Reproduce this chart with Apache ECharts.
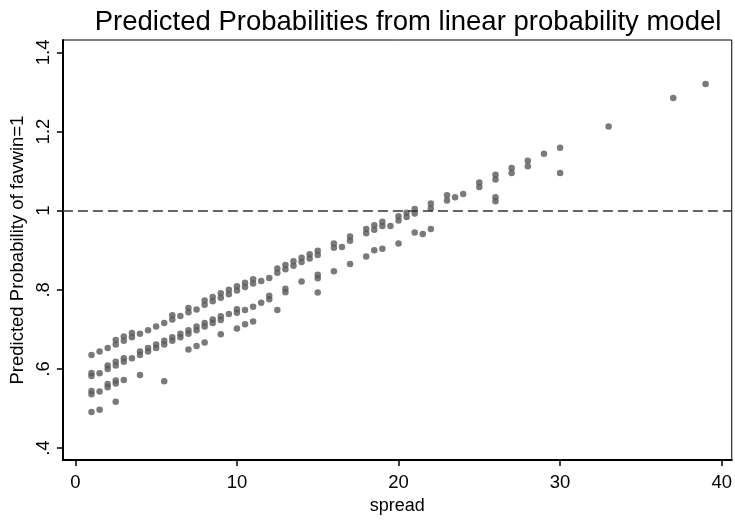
<!DOCTYPE html>
<html>
<head>
<meta charset="utf-8">
<script src="https://cdn.jsdelivr.net/npm/echarts@6.0.0/dist/echarts.min.js"></script>
<style>
html,body{margin:0;padding:0;background:#fff;}
#chart{width:735px;height:520px;}
</style>
</head>
<body>
<div id="chart"></div>
<script>
// Point spread (x) and predicted probability (y)
const spread = [
  1,1,1,1,1,1,
  1.5,1.5,1.5,1.5,
  2,2,2,2,2,
  2.5,2.5,2.5,2.5,2.5,2.5,2.5,
  3,3,3,3,3,
  3.5,3.5,3.5,
  4,4,4,4,
  4.5,4.5,4.5,
  5,5,5,
  5.5,5.5,5.5,5.5,
  6,6,6,6,
  6.5,6.5,6.5,
  7,7,7,7,7,
  7.5,7.5,7.5,7.5,
  8,8,8,8,8,
  8.5,8.5,8.5,8.5,
  9,9,9,9,9,
  9.5,9.5,9.5,
  10,10,10,10,10,
  10.5,10.5,10.5,10.5,
  11,11,11,11,
  11.5,11.5,
  12,12,12,
  12.5,12.5,12.5,
  13,13,13,13,
  13.5,13.5,
  14,14,14,
  14.5,14.5,
  15,15,15,15,15,
  16,16,16,
  16.5,
  17,17,17,
  18,18,18,
  18.5,18.5,18.5,
  19,19,19,
  19.5,
  20,20,20,
  20.5,20.5,
  21,21,21,
  21.5,
  22,22,22,
  23,23,
  23.5,
  24,
  25,25,
  26,26,26,26,
  27,27,
  28,28,
  29,
  30,30,
  33,
  37,
  39
];
const predicted = [
  0.635,0.590,0.582,0.544,0.536,0.491,
  0.644,0.589,0.543,0.497,
  0.653,0.609,0.600,0.562,0.554,
  0.673,0.662,0.618,0.609,0.571,0.563,0.517,
  0.682,0.671,0.627,0.618,0.572,
  0.691,0.680,0.627,
  0.689,0.644,0.635,0.585,
  0.698,0.653,0.644,
  0.707,0.662,0.653,
  0.716,0.671,0.662,0.569,
  0.736,0.725,0.680,0.671,
  0.734,0.689,0.680,
  0.754,0.743,0.698,0.689,0.649,
  0.750,0.707,0.698,0.658,
  0.773,0.762,0.716,0.707,0.667,
  0.782,0.771,0.725,0.716,
  0.791,0.780,0.733,0.724,0.688,
  0.800,0.789,0.739,
  0.809,0.798,0.751,0.742,0.702,
  0.818,0.807,0.749,0.713,
  0.827,0.816,0.757,0.720,
  0.822,0.767,
  0.830,0.785,0.776,
  0.854,0.843,0.749,
  0.863,0.852,0.803,0.794,
  0.872,0.861,
  0.881,0.870,0.821,
  0.890,0.879,
  0.899,0.888,0.838,0.829,0.793,
  0.917,0.906,0.847,
  0.908,
  0.935,0.924,0.865,
  0.954,0.943,0.884,
  0.963,0.952,0.900,
  0.972,0.961,0.904,
  0.961,
  0.986,0.975,0.917,
  0.995,0.984,
  1.004,0.993,0.945,
  0.941,
  1.018,1.006,0.954,
  1.039,1.026,
  1.034,
  1.042,
  1.071,1.060,
  1.091,1.079,1.034,1.024,
  1.108,1.095,
  1.126,1.112,
  1.144,
  1.159,1.095,
  1.213,
  1.285,
  1.320
];
const xTicks = [0, 10, 20, 30, 40];
const yTicks = [0.4, 0.6, 0.8, 1.0, 1.2, 1.4];
const yTickLabels = ['.4', '.6', '.8', '1', '1.2', '1.4'];
const refLine = 1;

const points = spread.map((s, i) => [s, predicted[i]]);

const chart = echarts.init(document.getElementById('chart'), null, {renderer: 'canvas'});
const font = "'Liberation Sans', Arial, sans-serif";
chart.setOption({
  animation: false,
  backgroundColor: '#fff',
  title: {
    text: 'Predicted Probabilities from linear probability model',
    left: 403, textAlign: 'center', top: 3,
    textStyle: {fontFamily: font, fontSize: 27.5, fontWeight: 'normal', color: '#000'}
  },
  grid: {
    left: 62.5, right: 1, top: 40, bottom: 51,
    show: true, borderColor: '#000', borderWidth: 1, backgroundColor: '#fff'
  },
  xAxis: {
    type: 'value', min: -0.77, max: 40.62,
    name: 'spread', nameLocation: 'middle', nameGap: 33,
    nameTextStyle: {fontFamily: font, fontSize: 18, color: '#000'},
    axisLine: {show: true, onZero: false, lineStyle: {color: '#000', width: 2}},
    axisTick: {show: true, length: 6, customValues: xTicks, lineStyle: {color: '#000', width: 1.5}},
    axisLabel: {customValues: xTicks, margin: 13, fontFamily: font, fontSize: 18.5, color: '#000'},
    splitLine: {show: false}
  },
  yAxis: {
    type: 'value', min: 0.3696, max: 1.4314,
    name: 'Predicted Probability of favwin=1', nameLocation: 'middle', nameGap: 35,
    nameTextStyle: {fontFamily: font, fontSize: 18.5, color: '#000'},
    axisLine: {show: true, onZero: false, lineStyle: {color: '#000', width: 2}},
    axisTick: {show: true, length: 6, customValues: yTicks, lineStyle: {color: '#000', width: 1.5}},
    axisLabel: {
      customValues: yTicks, rotate: 90, margin: 9, fontFamily: font, fontSize: 18.5, color: '#000',
      formatter: v => { const i = yTicks.findIndex(t => Math.abs(t - v) < 1e-6); return i >= 0 ? yTickLabels[i] : ''; }
    },
    splitLine: {show: false}
  },
  series: [{
    type: 'scatter',
    data: points,
    symbol: 'circle',
    symbolSize: 6.5,
    itemStyle: {color: '#595959'},
    markLine: {
      silent: true, symbol: 'none', label: {show: false},
      lineStyle: {color: '#333', type: [10, 5], width: 1.5},
      data: [{yAxis: refLine}]
    }
  }]
});
</script>
</body>
</html>
